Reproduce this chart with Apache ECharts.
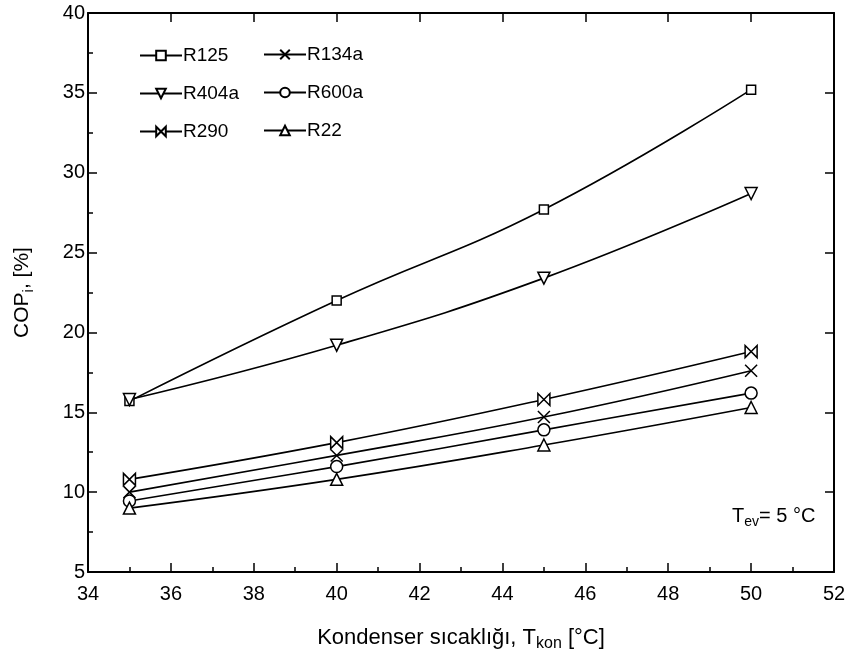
<!DOCTYPE html>
<html>
<head>
<meta charset="utf-8">
<script src="https://cdn.jsdelivr.net/npm/echarts@6/dist/echarts.min.js"></script>
<style>
  html, body { margin: 0; padding: 0; background: #fff; }
  #chart { width: 850px; height: 659px; }
</style>
</head>
<body>
<div id="chart"></div>
<script>
var myChart = echarts.init(document.getElementById('chart'));

// condenser temperatures
var tKon = [35, 40, 45, 50];

// COP values
var r125  = [15.7, 22.0, 27.7, 35.2];
var r404a = [15.8, 19.2, 23.4, 28.7];
var r290  = [10.8, 13.1, 15.8, 18.8];
var r134a = [10.0, 12.3, 14.7, 17.6];
var r600a = [9.45, 11.6, 13.9, 16.2];
var r22   = [9.0, 10.8, 12.95, 15.3];

var font = 'Liberation Sans';

function pairs(ys) {
    return tKon.map(function (x, i) { return [x, ys[i]]; });
}

function line(name, ys, symbol, size, rotate) {
    return {
        name: name,
        type: 'line',
        smooth: 0.45,
        data: pairs(ys),
        symbol: symbol,
        symbolSize: size,
        symbolRotate: rotate || 0,
        showAllSymbol: true,
        lineStyle: {color: '#000', width: 1.6},
        itemStyle: {color: '#fff', borderColor: '#000', borderWidth: 1.5},
        emphasis: {disabled: true},
        z: 3
    };
}

var xMark = 'path://M0,0L10,10M10,0L0,10';
var bowtie = 'path://M0,0L10,10L10,0L0,10Z';

var legendBase = {
    orient: 'vertical',
    itemWidth: 42,
    itemHeight: 12,
    itemGap: 19,
    textStyle: {fontFamily: font, fontSize: 19, color: '#000', padding: [0, 0, 0, -4]},
    inactiveColor: '#000',
    selectedMode: false
};

var option = {
    animation: false,
    backgroundColor: '#fff',
    grid: {left: 88, right: 16, top: 13, bottom: 87},
    legend: [
        Object.assign({}, legendBase, {left: 134, top: 41, data: ['R125', 'R404a', 'R290']}),
        Object.assign({}, legendBase, {left: 258, top: 40, data: ['R134a', 'R600a', 'R22']})
    ],
    xAxis: [{
        type: 'value',
        min: 34, max: 52, interval: 2,
        name: '{n|Kondenser sıcaklığı, T}{s|kon}{n| [°C]}',
        nameLocation: 'middle',
        nameGap: 51,
        nameTextStyle: {
            rich: {
                n: {fontFamily: font, fontSize: 22, color: '#000'},
                s: {fontFamily: font, fontSize: 16, color: '#000', padding: [13, 0, 0, 0]}
            }
        },
        axisLine: {onZero: false, lineStyle: {color: '#000', width: 2}},
        axisTick: {inside: true, length: 9, lineStyle: {color: '#000', width: 1.5}},
        minorTick: {show: true, splitNumber: 2, length: 5, lineStyle: {color: '#000', width: 1.5}},
        axisLabel: {fontFamily: font, fontSize: 20, color: '#000', margin: 12},
        splitLine: {show: false}
    }, {
        type: 'value',
        position: 'top',
        min: 34, max: 52, interval: 2,
        axisLine: {onZero: false, lineStyle: {color: '#000', width: 2}},
        axisTick: {inside: true, length: 9, lineStyle: {color: '#000', width: 1.5}},
        minorTick: {show: false},
        axisLabel: {show: false},
        splitLine: {show: false}
    }],
    yAxis: [{
        type: 'value',
        min: 5, max: 40, interval: 5,
        name: '{n|COP}{s|i}{n|, [%]}',
        nameLocation: 'middle',
        nameGap: 52,
        nameRotate: 90,
        nameTextStyle: {
            rich: {
                n: {fontFamily: font, fontSize: 21, color: '#000'},
                s: {fontFamily: font, fontSize: 15, color: '#000', padding: [13, 0, 0, 0]}
            }
        },
        axisLine: {onZero: false, lineStyle: {color: '#000', width: 2}},
        axisTick: {inside: true, length: 9, lineStyle: {color: '#000', width: 1.5}},
        minorTick: {show: true, splitNumber: 2, length: 5, lineStyle: {color: '#000', width: 1.5}},
        axisLabel: {fontFamily: font, fontSize: 20, color: '#000', margin: 3},
        splitLine: {show: false}
    }, {
        type: 'value',
        position: 'right',
        min: 5, max: 40, interval: 5,
        axisLine: {onZero: false, lineStyle: {color: '#000', width: 2}},
        axisTick: {inside: true, length: 9, lineStyle: {color: '#000', width: 1.5}},
        minorTick: {show: false},
        axisLabel: {show: false},
        splitLine: {show: false}
    }],
    graphic: [{
        type: 'text',
        left: 732,
        top: 506,
        style: {
            text: '{n|T}{s|ev}{n|= 5 °C}',
            rich: {
                n: {fontFamily: font, fontSize: 20, fill: '#000'},
                s: {fontFamily: font, fontSize: 14, fill: '#000', padding: [12, 0, 0, 0]}
            }
        }
    }],
    series: [
        line('R125', r125, 'rect', 9),
        line('R404a', r404a, 'triangle', 12, 180),
        line('R290', r290, bowtie, 12),
        line('R134a', r134a, xMark, 12),
        line('R600a', r600a, 'circle', 12),
        line('R22', r22, 'triangle', 12)
    ]
};

myChart.setOption(option);
</script>
</body>
</html>
